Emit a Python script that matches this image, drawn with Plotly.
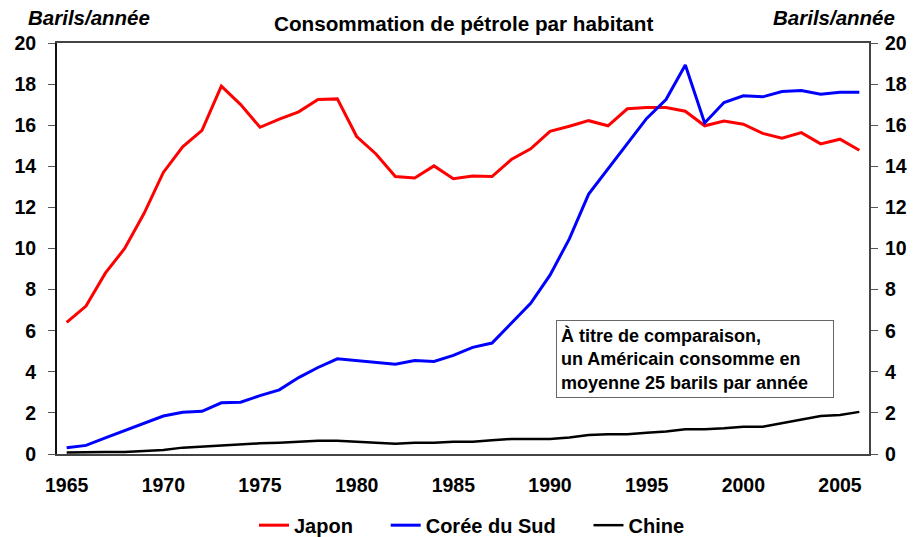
import plotly.graph_objects as go

years = list(range(1965, 2007))
japon = [6.4, 7.2, 8.8, 10.0, 11.7, 13.7, 14.95, 15.75, 17.9, 17.0, 15.9, 16.3, 16.65, 17.25, 17.28,
         15.45, 14.6, 13.5, 13.43, 14.02, 13.4, 13.53, 13.5, 14.33, 14.85, 15.7, 15.95, 16.22, 15.97,
         16.8, 16.86, 16.86, 16.68, 15.97, 16.2, 16.05, 15.6, 15.37, 15.64, 15.09, 15.32, 14.78]
coree = [0.3, 0.42, 0.78, 1.14, 1.5, 1.85, 2.03, 2.08, 2.49, 2.52, 2.84, 3.12, 3.72, 4.21, 4.63,
         4.54, 4.45, 4.37, 4.55, 4.5, 4.8, 5.19, 5.4, 6.38, 7.33, 8.7, 10.47, 12.65, 13.87,
         15.08, 16.33, 17.25, 18.93, 16.11, 17.1, 17.43, 17.38, 17.64, 17.69, 17.51, 17.6, 17.6]
chine = [0.07, 0.1, 0.1, 0.1, 0.15, 0.2, 0.31, 0.36, 0.44, 0.48, 0.52, 0.55, 0.6, 0.65, 0.65,
         0.6, 0.56, 0.5, 0.55, 0.55, 0.6, 0.6, 0.67, 0.73, 0.73, 0.73, 0.8, 0.92, 0.96,
         0.96, 1.03, 1.09, 1.2, 1.2, 1.25, 1.33, 1.33, 1.5, 1.66, 1.85, 1.9, 2.05]
x_ticks = [1965, 1970, 1975, 1980, 1985, 1990, 1995, 2000, 2005]
y_ticks = [0, 2, 4, 6, 8, 10, 12, 14, 16, 18, 20]

FONT = "Liberation Sans, Arial, sans-serif"
TICKF = dict(family=FONT, size=19.5, color="black", weight="bold")
LEGF = dict(family=FONT, size=20, color="black", weight="bold")
PAD = "\u00a0" * 5

fig = go.Figure()
fig.add_trace(go.Scatter(x=years, y=japon, mode="lines", name="Japon" + PAD,
                         line=dict(color="#ff0000", width=3)))
fig.add_trace(go.Scatter(x=years, y=coree, mode="lines", name="Corée du Sud" + PAD,
                         line=dict(color="#0000ff", width=3)))
fig.add_trace(go.Scatter(x=years, y=chine, mode="lines", name="Chine",
                         line=dict(color="#000000", width=2.5)))
# invisible helper so the right axis is drawn
fig.add_trace(go.Scatter(x=years, y=chine, mode="lines", yaxis="y2", showlegend=False,
                         hoverinfo="skip", line=dict(color="rgba(0,0,0,0)", width=0)))

axis_common = dict(range=[0, 20], tickvals=y_ticks, showgrid=False, zeroline=False,
                   ticks="outside", ticklen=7, tickcolor="#555", tickwidth=1,
                   tickfont=TICKF, automargin=False)

fig.update_layout(
    width=915, height=537,
    margin=dict(l=57, r=46, t=43, b=83, autoexpand=False),
    paper_bgcolor="white", plot_bgcolor="white",
    font=dict(family=FONT, color="black"),
    xaxis=dict(range=[1964.5, 2006.5], tickvals=x_ticks, showgrid=False, zeroline=False,
               showline=True, linecolor="#444", linewidth=2, mirror=True, ticks="",
               tickfont=TICKF, ticklabelstandoff=13, automargin=False),
    yaxis=dict(showline=True, linecolor="#111", linewidth=2, ticklabelstandoff=8, **axis_common),
    yaxis2=dict(overlaying="y", side="right", showline=True, linecolor="#444", linewidth=2,
                ticklabelstandoff=3, **axis_common),
    legend=dict(orientation="h", x=(472 - 57) / 812, xanchor="center", y=-(524 - 453) / 410,
                yanchor="middle", font=LEGF, itemwidth=30, tracegroupgap=0),
    showlegend=True,
)

fig.add_annotation(text="Consommation de pétrole par habitant", xref="paper", yref="paper",
                   x=0.5, y=1 + (43 - 24) / 410, xanchor="center", yanchor="middle",
                   showarrow=False, font=dict(family=FONT, size=20.7, color="black", weight="bold"))
fig.add_annotation(text="<i>Barils/année</i>", xref="paper", yref="paper",
                   x=0, y=1 + (43 - 18) / 410, xanchor="center", yanchor="middle", showarrow=False,
                   xshift=32, font=dict(family=FONT, size=20.5, color="black", weight="bold"))
fig.add_annotation(text="<i>Barils/année</i>", xref="paper", yref="paper",
                   x=1, y=1 + (43 - 18) / 410, xanchor="center", yanchor="middle", showarrow=False,
                   xshift=-35, font=dict(family=FONT, size=20.5, color="black", weight="bold"))
fig.add_annotation(text="À titre de comparaison,<br>un Américain consomme en<br>moyenne 25 barils par année",
                   xref="paper", yref="paper", x=(556 - 57) / 812, y=(453 - 319) / 410,
                   xanchor="left", yanchor="top", align="left", showarrow=False,
                   bordercolor="#666", borderwidth=1, borderpad=4, bgcolor="white",
                   font=dict(family=FONT, size=18, color="black", weight="bold"), width=268)

fig.write_html("out.html", config={"displayModeBar": False},
               post_script="document.body.style.margin='0';document.body.style.overflow='hidden';")
